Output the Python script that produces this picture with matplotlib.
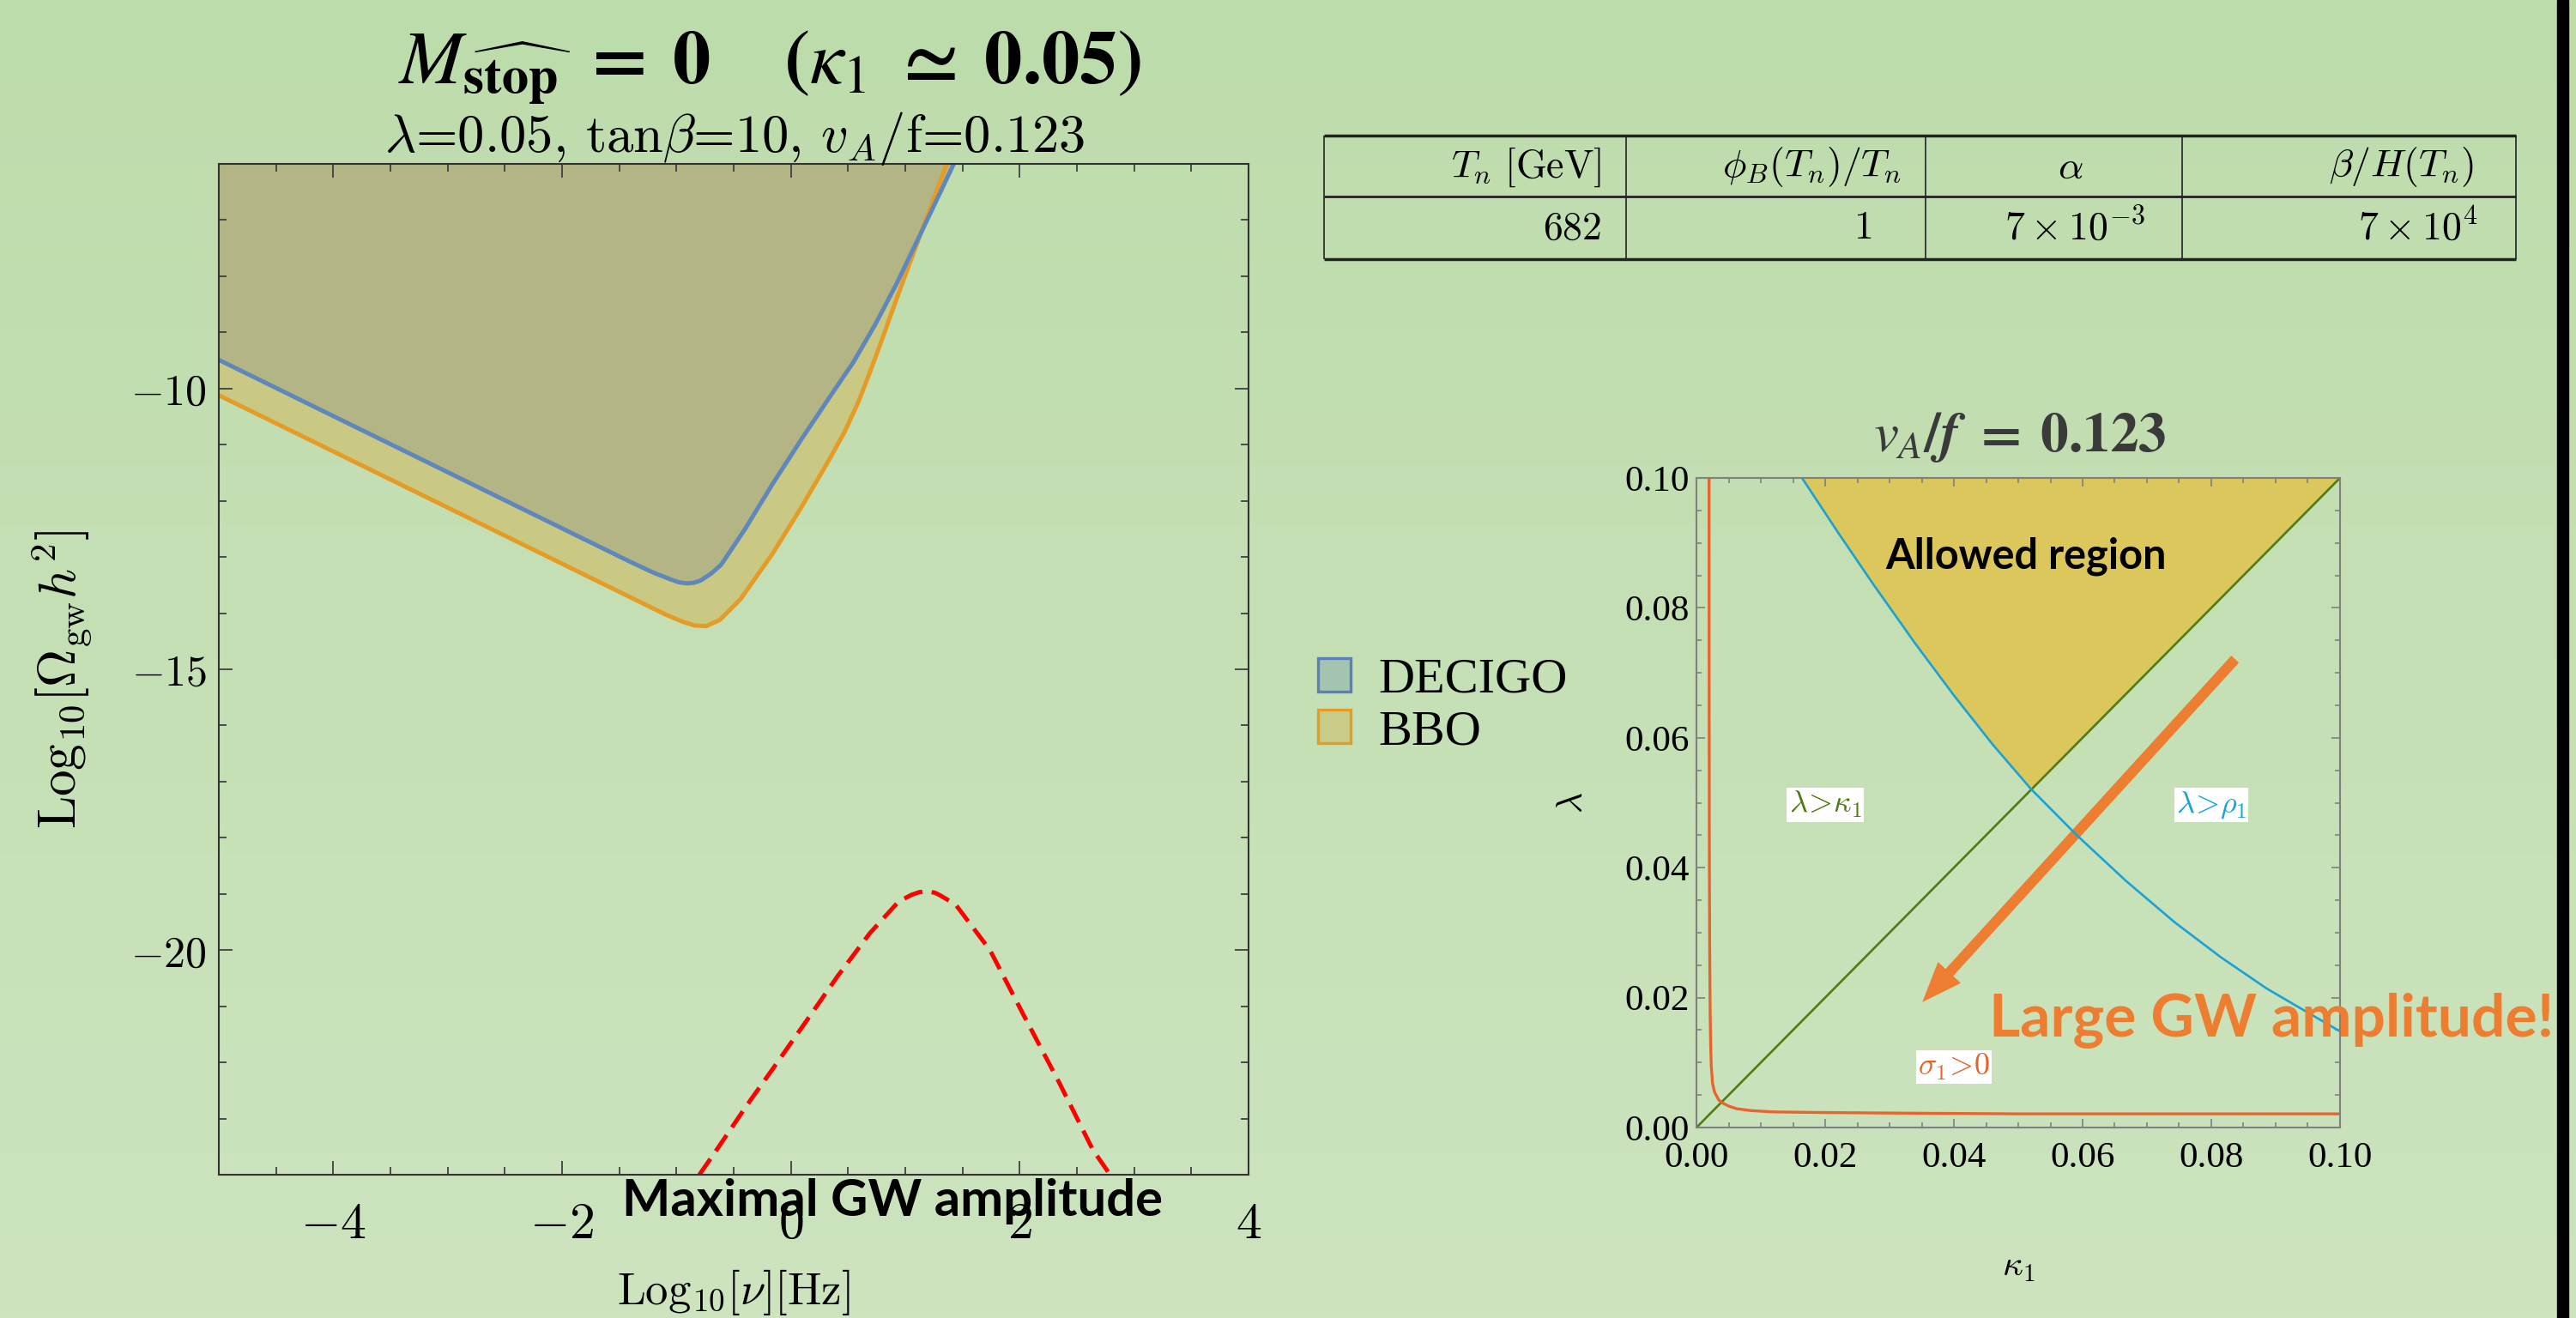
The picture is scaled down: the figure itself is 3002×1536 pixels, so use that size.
import numpy as np
import matplotlib
matplotlib.use("Agg")
import matplotlib.pyplot as plt
from matplotlib.colors import LinearSegmentedColormap
from matplotlib.patches import Patch, Rectangle
from matplotlib.ticker import MultipleLocator

plt.rcParams["mathtext.fontset"] = "cm"

W, H = 3002, 1536

# ---- left panel: GW spectrum vs detector reach (log10 nu [Hz], log10 Omega h^2) ----
decigo_logf = [-5.0, -4.0, -3.0, -2.0, -1.66, -1.4, -1.2, -1.05, -0.98, -0.91, -0.85, -0.79,
               -0.70, -0.61, -0.40, -0.16, 0.10, 0.34, 0.55, 0.74, 0.92, 1.09, 1.27, 1.44]
decigo_logomega = [-9.49, -10.49, -11.49, -12.49, -12.83, -13.09, -13.28, -13.40, -13.45,
                   -13.47, -13.46, -13.42, -13.30, -13.14, -12.50, -11.70, -10.88, -10.15,
                   -9.52, -8.85, -8.15, -7.43, -6.66, -5.93]
bbo_logf = [-5.0, -4.0, -3.0, -2.0, -1.66, -1.34, -1.1, -0.95, -0.84, -0.74, -0.62, -0.44,
            -0.16, 0.09, 0.34, 0.47, 0.59, 0.70, 0.78, 0.96, 1.17, 1.38]
bbo_logomega = [-10.12, -11.12, -12.12, -13.12, -13.46, -13.78, -14.02, -14.15, -14.22,
                -14.23, -14.12, -13.75, -12.94, -12.12, -11.25, -10.77, -10.24, -9.66,
                -9.22, -8.20, -7.05, -5.90]
signal_logf = [-0.80, -0.67, -0.38, -0.16, 0.14, 0.41, 0.69, 0.94, 1.05, 1.12, 1.19, 1.26,
               1.30, 1.44, 1.74, 2.04, 2.34, 2.64, 2.79]
signal_logomega = [-24.0, -23.62, -22.75, -22.12, -21.25, -20.46, -19.70, -19.14, -19.02,
                   -18.97, -18.95, -18.98, -19.02, -19.19, -20.0, -21.18, -22.34, -23.56,
                   -24.0]
left_xticks = [-4, -2, 0, 2, 4]
left_yticks = [-20, -15, -10]
legend_names = ["DECIGO", "BBO"]

# ---- right panel: (kappa_1, lambda) plane ----
diag_kappa = [0.0, 0.1]
diag_lam = [0.0, 0.1]
rho_kappa = [0.0164, 0.0220, 0.0275, 0.0340, 0.0401, 0.0460, 0.0519, 0.0591, 0.0667,
             0.0743, 0.0815, 0.0886, 0.1000]
rho_lam = [0.1000, 0.0916, 0.0836, 0.0745, 0.0664, 0.0590, 0.0522, 0.0450, 0.0380,
           0.0316, 0.0262, 0.0214, 0.0148]
sigma_kappa = [0.00196, 0.00197, 0.00200, 0.00205, 0.00213, 0.00220, 0.00230, 0.00250,
               0.00280, 0.00310, 0.00350, 0.00400, 0.00500, 0.00620, 0.00850, 0.0120,
               0.0200, 0.0340, 0.0500, 0.0700, 0.1000]
sigma_lam = [0.1000, 0.0700, 0.0450, 0.0280, 0.0177, 0.0130, 0.0095, 0.0068, 0.0055,
             0.0049, 0.0042, 0.0038, 0.0033, 0.0029, 0.0026, 0.0024, 0.0023, 0.0022,
             0.0021, 0.0021, 0.0021]
right_ticks = [0.0, 0.02, 0.04, 0.06, 0.08, 0.10]

# ---- benchmark table ----
table_header = [r"$T_n\ [\mathrm{GeV}]$", r"$\phi_B(T_n)/T_n$", r"$\alpha$", r"$\beta/H(T_n)$"]
table_row = [r"$682$", r"$1$", r"$7\times10^{-3}$", r"$7\times10^{4}$"]


fig = plt.figure(figsize=(W / 100, H / 100), dpi=100)

# slide background
bg = fig.add_axes([0, 0, 1, 1], zorder=-5)
bg_cmap = LinearSegmentedColormap.from_list("bg", ["#bddcab", "#cde4bf"])
bg.imshow(np.linspace(0, 1, 256)[:, None], aspect="auto", cmap=bg_cmap, extent=[0, 1, 0, 1])
bg.axis("off")

# left panel
ax = fig.add_axes([255 / W, 1 - 1369 / H, 1200 / W, 1178 / H])
ax.patch.set_alpha(0)
ax.fill_between(bbo_logf, bbo_logomega, 0, color="#c9c983", lw=0)
ax.fill_between(decigo_logf, decigo_logomega, 0, color="#b3b585", lw=0)
ax.plot(bbo_logf, bbo_logomega, color="#e49c26", lw=3.6, solid_joinstyle="round")
ax.plot(decigo_logf, decigo_logomega, color="#5f87bb", lw=3.6, solid_joinstyle="round")
ax.plot(signal_logf, signal_logomega, color="red", lw=3.6, ls=(0, (4.5, 2.2)))
ax.set_xlim(-5, 4)
ax.set_ylim(-24, -6)
ax.set_xticks(left_xticks, labels=[rf"${t}$" for t in left_xticks])
ax.set_yticks(left_yticks, labels=[rf"${t}$" for t in left_yticks])
ax.xaxis.set_minor_locator(MultipleLocator(0.5))
ax.yaxis.set_minor_locator(MultipleLocator(1))
ax.tick_params(which="both", direction="in", top=True, right=True, color="#404040", width=1.3)
ax.tick_params(which="major", length=11.5)
ax.tick_params(which="minor", length=6.5)
ax.tick_params(axis="x", labelsize=43, pad=20)
ax.tick_params(axis="y", labelsize=36, pad=10)
for s in ax.spines.values():
    s.set_color("#333333")
    s.set_linewidth(1.5)
ax.set_xlabel(r"$\mathrm{Log}_{10}[\nu][\mathrm{Hz}]$", fontsize=38, va="top")
ax.xaxis.set_label_coords(0.5, -0.092)
ax.set_ylabel(r"$\mathrm{Log}_{10}[\Omega_{\mathrm{gw}}h^2]$", fontsize=44)
ax.yaxis.set_label_coords(-0.122, 0.49)

fig.text(897 / W, 1 - 98 / H,
         r"$\boldsymbol{M_{\widehat{\mathbf{stop}}}\ =\ 0\quad\ (\kappa_1\ \simeq\ 0.05)}$",
         math_fontfamily="stix", fontsize=64, ha="center", va="baseline")
fig.text(856 / W, 1 - 177 / H,
         r"$\lambda$=0.05, tan$\beta$=10, $v_A$/f=0.123",
         family="cmr10", fontsize=45, ha="center", va="baseline")
fig.text(1040 / W, 1 - 1417 / H, "Maximal GW amplitude", family="Lato", weight="bold",
         fontsize=43, ha="center", va="baseline")

fig.legend(handles=[Patch(facecolor="#a5c4b0", edgecolor="#5b7fbb", lw=2.4, label=legend_names[0]),
                    Patch(facecolor="#c9cc88", edgecolor="#e69b24", lw=2.4, label=legend_names[1])],
           loc="center left", bbox_to_anchor=(1536 / W, 1 - 823 / H), frameon=False,
           prop={"family": "Liberation Serif", "size": 42}, handlelength=0.65,
           handleheight=0.65, handletextpad=0.55, labelspacing=0.15, borderpad=0,
           borderaxespad=0)

# right panel
ax2 = fig.add_axes([1977 / W, 1 - 1314 / H, 750 / W, 757 / H])
ax2.patch.set_alpha(0)
ax2.fill_between(rho_kappa, np.maximum(rho_lam, rho_kappa), 0.1, color="#dcc75c", lw=0)
ax2.plot(diag_kappa, diag_lam, color="#4e7d14", lw=1.9)
ax2.plot(rho_kappa, rho_lam, color="#1aa2d4", lw=1.9)
ax2.plot(sigma_kappa, sigma_lam, color="#e8642c", lw=2.4)
ax2.arrow(0.0837, 0.0721, 0.0351 - 0.0837, 0.0193 - 0.0721, width=0.0016,
          head_width=0.0048, head_length=0.0062, length_includes_head=True,
          color="#ed7d31", lw=0)
ax2.set_xlim(0, 0.1)
ax2.set_ylim(0, 0.1)
ax2.set_xticks(right_ticks, labels=[f"{t:.2f}" for t in right_ticks])
ax2.set_yticks(right_ticks, labels=[f"{t:.2f}" for t in right_ticks])
ax2.xaxis.set_minor_locator(MultipleLocator(0.005))
ax2.yaxis.set_minor_locator(MultipleLocator(0.005))
ax2.tick_params(which="both", direction="in", top=True, right=True, color="#808080",
                width=1.2, labelsize=31, labelfontfamily="Liberation Serif")
ax2.tick_params(which="major", length=7.5)
ax2.tick_params(which="minor", length=4)
ax2.tick_params(axis="x", pad=12)
ax2.tick_params(axis="y", pad=6)
for s in ax2.spines.values():
    s.set_color("#808080")
    s.set_linewidth(1.5)
ax2.set_xlabel(r"$\kappa_1$", fontsize=30, va="top")
ax2.xaxis.set_label_coords(0.5, -0.185)
ax2.set_ylabel(r"$\lambda$", fontsize=30)
ax2.yaxis.set_label_coords(-0.165, 0.5)

box = dict(facecolor="white", edgecolor="none", pad=1.5)
ax2.text(0.020, 0.0497, r"$\lambda\!>\!\kappa_1$", color="#4f7a12", fontsize=26,
         ha="center", va="center", bbox=box)
ax2.text(0.080, 0.0497, r"$\lambda\!>\!\rho_1$", color="#1aa3d9", fontsize=26,
         ha="center", va="center", bbox=box)
ax2.text(0.040, 0.0093, r"$\sigma_1\!>\!0$", color="#e8612c", fontsize=26,
         ha="center", va="center", bbox=box)
ax2.text(0.0512, 0.0861, "Allowed region", family="Lato", weight="bold", fontsize=35,
         ha="center", va="baseline")

fig.text(2354 / W, 1 - 526 / H, r"$\boldsymbol{v_A/f\ =\ 0.123}$",
         math_fontfamily="stix", fontsize=47, color="#3a3a3a", ha="center", va="baseline")
fig.text(2318 / W, 1 - 1208 / H, "Large GW amplitude!", family="Lato", weight="bold",
         fontsize=50, color="#ed7d31", ha="left", va="baseline")

# table and slide edge, drawn in pixel coordinates
ov = fig.add_axes([0, 0, 1, 1], zorder=5)
ov.set_xlim(0, W)
ov.set_ylim(H, 0)
ov.axis("off")
col_edges = [1543, 1895, 2244, 2543, 2932]
ov.hlines([158, 302], col_edges[0], col_edges[-1], color="#222222", lw=2.5)
ov.hlines(229, col_edges[0], col_edges[-1], color="#222222", lw=2)
ov.vlines(col_edges, 158, 302, color="#222222", lw=1.2)
header_anchor = [(1866, "right"), (2216, "right"), (2413, "center"), (2883, "right")]
row_anchor = [(1866, "right"), (2181, "right"), (2418, "center"), (2888, "right")]
for txt, (xa, ha) in zip(table_header, header_anchor):
    ov.text(xa, 195, txt, fontsize=33, ha=ha, va="center")
for txt, (xa, ha) in zip(table_row, row_anchor):
    ov.text(xa, 266, txt, fontsize=33, ha=ha, va="center")
ov.add_patch(Rectangle((2980, 0), 13, H, color="black"))

fig.savefig("out.png", dpi=100)
